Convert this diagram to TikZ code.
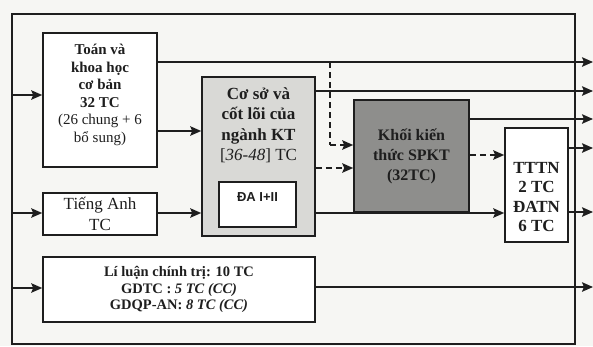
\documentclass[tikz,border=0pt]{standalone}
\usepackage{fontspec}
\setmainfont{Liberation Serif}
\newfontfamily\sansf{Liberation Sans}
\usetikzlibrary{arrows.meta}
\definecolor{bg}{HTML}{F6F6F3}
\definecolor{ink}{HTML}{1E1E1E}
\definecolor{lightfill}{HTML}{D9D9D6}
\definecolor{darkfill}{HTML}{8E8E8C}
\begin{document}
\begin{tikzpicture}[x=1bp,y=-1bp,
  box/.style={draw=ink, line width=1.6bp, inner sep=0pt, align=center, text=ink},
  lbl/.style={inner sep=0pt, align=center, text=ink},
  conn/.style={draw=ink, line width=1.6bp, -{Stealth[length=11bp,width=9.5bp,inset=2bp]}},
  dconn/.style={conn, dash pattern=on 6bp off 4bp},
  plain/.style={draw=ink, line width=1.6bp},
  dplain/.style={plain, dash pattern=on 6bp off 4bp}]
\useasboundingbox (0,0) rectangle (593,346);
\fill[bg] (0,0) rectangle (593,346);
% outer frame
\draw[draw=ink, line width=2bp] (12,14) rectangle (575,344);
% boxes
\node[box, fill=white, minimum width=114bp, minimum height=134bp] (toan) at (100,100) {};
\node[lbl, font=\fontsize{15bp}{17.5bp}\selectfont] (toantext) at (100,95)
  {\bfseries Toán và\\ \bfseries khoa học\\ \bfseries cơ bản\\ \bfseries 32 TC\\ (26 chung + 6\\ bổ sung)};
\node[box, fill=lightfill, minimum width=113bp, minimum height=159bp] (coso) at (258.5,156.5) {};
\node[lbl, font=\fontsize{17bp}{20.5bp}\selectfont] (cosotext) at (258.5,125)
  {\bfseries Cơ sở và\\ \bfseries cốt lõi của\\ \bfseries ngành KT\\ {[}\textit{36-48}{]} TC};
\node[box, fill=white, minimum width=77bp, minimum height=45bp] (da) at (257.5,204.5) {};
\node[lbl, font=\sansf\bfseries\fontsize{13bp}{15bp}\selectfont] (datext) at (257.5,197) {ĐA I+II};
\node[box, fill=darkfill, minimum width=115bp, minimum height=112bp,
  font=\fontsize{16bp}{20bp}\selectfont\bfseries] (khoi) at (411.5,156)
  {Khối kiến\\ thức SPKT\\ (32TC)};
\node[box, fill=white, minimum width=63bp, minimum height=114bp] (tttn) at (536.5,185) {};
\node[lbl, font=\fontsize{17bp}{19.5bp}\selectfont\bfseries] (tttntext) at (536.5,197)
  {TTTN\\ 2 TC\\ ĐATN\\ 6 TC};
\node[box, fill=white, minimum width=114bp, minimum height=42bp,
  font=\fontsize{17bp}{21bp}\selectfont] (ta) at (100,214) {Tiếng Anh\\ TC};
\node[box, fill=white, minimum width=272bp, minimum height=65bp,
  font=\fontsize{14.5bp}{16.5bp}\selectfont\bfseries] (ll) at (179,289.5)
  {Lí luận chính trị: 10 TC\\ GDTC : \textit{5 TC (CC)}\\ GDQP-AN: \textit{8 TC (CC)}};
% frame coordinates
\coordinate (l1) at (12,95);
\coordinate (l2) at (12,213);
\coordinate (l3) at (12,288);
\coordinate (r1) at (593,62);
\coordinate (r2) at (593,91);
\coordinate (r3) at (593,119);
\coordinate (r4) at (593,148);
\coordinate (r5) at (593,212);
\coordinate (r6) at (593,287);
\coordinate (dtop) at (330,62);
\coordinate (dcorner) at (330,145);
% connectors from the left
\draw[conn] (l1) -- (toan.west |- l1);
\draw[conn] (l2) -- (ta.west |- l2);
\draw[conn] (l3) -- (ll.west |- l3);
% internal
\draw[conn] (toan.east |- 0,131) -- (coso.west |- 0,131);
\draw[conn] (ta.east |- 0,213) -- (coso.west |- 0,213);
\draw[conn] (coso.east |- 0,213) -- (tttn.west |- 0,213);
\draw[dplain] (dtop) -- (dcorner);
\draw[dconn] (dcorner) -- (khoi.west |- dcorner);
\draw[dconn] (coso.east |- 0,168) -- (khoi.west |- 0,168);
\draw[dconn] (khoi.east |- 0,155) -- (tttn.west |- 0,155);
% outputs to the right
\draw[conn] (toan.east |- r1) -- (r1);
\draw[conn] (coso.east |- r2) -- (r2);
\draw[conn] (khoi.east |- r3) -- (r3);
\draw[conn] (tttn.east |- r4) -- (r4);
\draw[conn] (tttn.east |- r5) -- (r5);
\draw[conn] (ll.east |- r6) -- (r6);
\end{tikzpicture}
\end{document}
